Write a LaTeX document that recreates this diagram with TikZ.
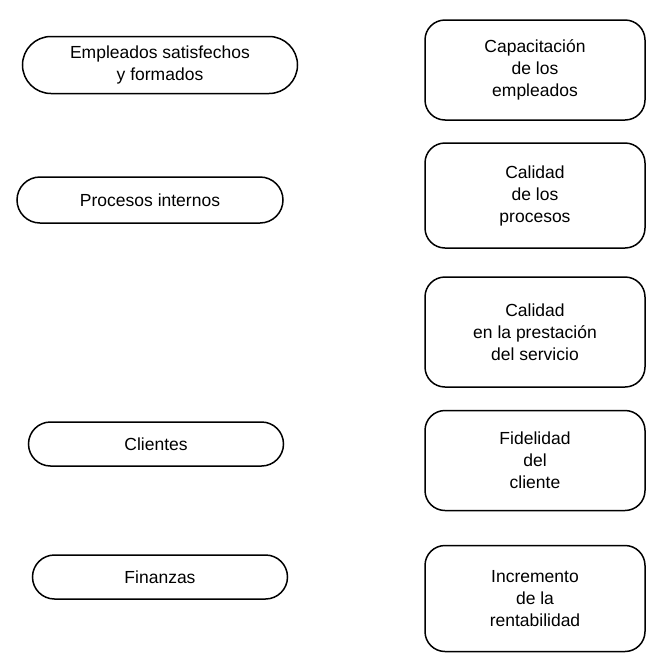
\documentclass[tikz,border=0pt]{standalone}
\usepackage{fontspec}
\setmainfont{Liberation Sans}
\usetikzlibrary{shapes.misc}
\begin{document}
\begin{tikzpicture}[x=1pt,y=-1pt,
  label font/.style={font=\fontsize{17.5}{22}\selectfont},
  pill/.style={draw, line width=1.5pt, rounded rectangle, inner sep=0pt,
    align=center, label font},
  goal/.style={draw, line width=1.5pt, rounded corners=20pt, rectangle,
    inner sep=0pt, align=center, minimum width=220pt, label font}]
\useasboundingbox (0,0) rectangle (649,654);

% perspectives (left column)
\node[pill, minimum width=275pt, minimum height=57pt] (emp) at (160,65)
  {Empleados satisfechos\\y formados};
\node[pill, minimum width=266pt, minimum height=46pt] (proc) at (150,200)
  {Procesos internos};
\node[pill, minimum width=255pt, minimum height=44pt] (cli) at (156,444)
  {Clientes};
\node[pill, minimum width=255pt, minimum height=44pt] (fin) at (160,577)
  {Finanzas};

% objectives (right column)
\node[goal, minimum height=100pt] (cap) at (535,70)
  {Capacitación\\de los\\empleados};
\node[goal, minimum height=105pt] (calp) at (535,195.5)
  {Calidad\\de los\\procesos};
\node[goal, minimum height=110pt] (cals) at (535,332)
  {Calidad\\en la prestación\\del servicio};
\node[goal, minimum height=100pt] (fid) at (535,460.5)
  {Fidelidad\\del\\cliente};
\node[goal, minimum height=106pt] (inc) at (535,598.5)
  {Incremento\\de la\\rentabilidad};
\end{tikzpicture}
\end{document}
